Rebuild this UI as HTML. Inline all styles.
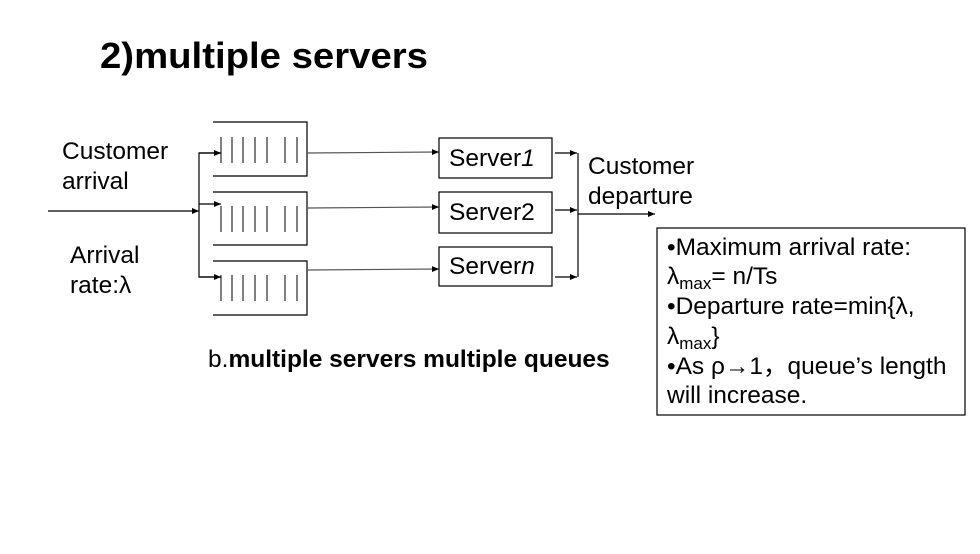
<!DOCTYPE html>
<html><head><meta charset="utf-8"><style>
html,body{margin:0;padding:0;background:#fff;}
svg{display:block;}
text{font-family:"Liberation Sans",Arial,sans-serif;fill:#000;}
</style></head><body>
<svg width="980" height="554" viewBox="0 0 980 554" xmlns="http://www.w3.org/2000/svg">
<defs><marker id="a" markerWidth="8" markerHeight="8" refX="7" refY="4" orient="auto" markerUnits="userSpaceOnUse"><path d="M0,1 L7,4 L0,7 z" fill="#000"/></marker></defs>
<text x="100" y="68" font-size="36" font-weight="bold" textLength="328" lengthAdjust="spacingAndGlyphs">2)multiple servers</text>
<g font-size="24.5">
<text x="62" y="159">Customer</text>
<text x="62" y="189">arrival</text>
<text x="70" y="263">Arrival</text>
<text x="70" y="293">rate:λ</text>
</g>
<g stroke="#000" stroke-width="1.2" fill="none">
<line x1="48" y1="211" x2="199" y2="211" marker-end="url(#a)"/>
<polyline points="221,153 199,153 199,277 221,277"/>
<line x1="199" y1="153" x2="221" y2="153" marker-end="url(#a)"/>
<line x1="199" y1="204" x2="221" y2="204" marker-end="url(#a)"/>
<line x1="199" y1="277" x2="221" y2="277" marker-end="url(#a)"/>
<polyline points="213,122 307,122 307,176 213,176"/>
<polyline points="213,192 307,192 307,245 213,245"/>
<polyline points="213,261 307,261 307,315 213,315"/>
<line x1="307" y1="153" x2="439" y2="152" stroke="#555" marker-end="url(#a)"/>
<line x1="307" y1="208" x2="439" y2="207" stroke="#555" marker-end="url(#a)"/>
<line x1="307" y1="270" x2="439" y2="269" stroke="#555" marker-end="url(#a)"/>
<rect x="439" y="138" width="113" height="40"/>
<rect x="439" y="192" width="113" height="41"/>
<rect x="439" y="247" width="113" height="39"/>
<line x1="555" y1="153" x2="577" y2="153" marker-end="url(#a)"/>
<line x1="555" y1="210" x2="577" y2="210" marker-end="url(#a)"/>
<line x1="555" y1="277" x2="577" y2="277" marker-end="url(#a)"/>
<line x1="578" y1="153" x2="578" y2="277"/>
<line x1="578" y1="214" x2="655" y2="214" marker-end="url(#a)"/>
<rect x="657" y="228" width="308" height="187"/>
</g>
<g stroke="#000" stroke-width="1">
<path d="M221,137v26M232,137v26M243,137v26M255,137v26M267,137v26M285,137v26M297,137v26"/>
<path d="M221,206v26M232,206v26M243,206v26M255,206v26M267,206v26M285,206v26M297,206v26"/>
<path d="M221,275v26M232,275v26M243,275v26M255,275v26M267,275v26M285,275v26M297,275v26"/>
</g>
<g font-size="24.5">
<text x="449" y="166">Server<tspan font-style="italic">1</tspan></text>
<text x="449" y="220">Server2</text>
<text x="449" y="274">Server<tspan font-style="italic">n</tspan></text>
<text x="588" y="174">Customer</text>
<text x="588" y="204">departure</text>
<text x="208" y="367">b.<tspan font-weight="bold">multiple servers multiple queues</tspan></text>
<text x="667" y="255">•Maximum arrival rate:</text>
<text x="667" y="284">λ<tspan font-size="17" dy="5">max</tspan><tspan dy="-5">= n/Ts</tspan></text>
<text x="667" y="314">•Departure rate=min{λ,</text>
<text x="667" y="344">λ<tspan font-size="17" dy="5">max</tspan><tspan dy="-5">}</tspan></text>
<text x="667" y="374">•As ρ→1，queue’s length</text>
<text x="667" y="403">will increase.</text>
</g>
</svg>
</body></html>
